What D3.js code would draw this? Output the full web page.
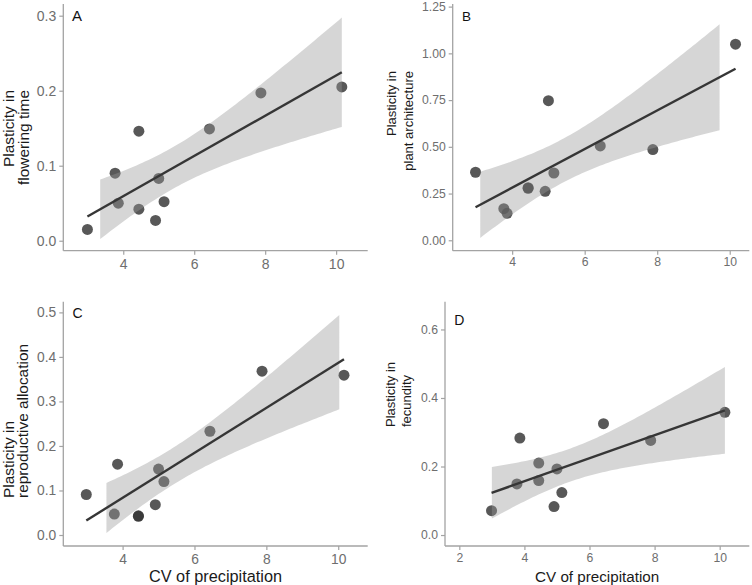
<!DOCTYPE html>
<html>
<head>
<meta charset="utf-8">
<script src="https://cdn.jsdelivr.net/npm/d3@7"></script>
<style>
  html, body { margin: 0; padding: 0; background: #fff; }
  svg { display: block; font-family: "Liberation Sans", Arial, Helvetica, sans-serif; }
</style>
</head>
<body>
<svg id="chart" width="752" height="585"></svg>
<script>
// ---- data ----
const cvPrecipitation = [2.99, 3.77, 3.86, 4.44, 4.44, 4.91, 5.00, 5.15, 6.43, 7.88, 10.16];
const floweringTime      = [0.015, 0.090, 0.050, 0.146, 0.042, 0.027, 0.083, 0.052, 0.149, 0.197, 0.205];
const plantArchitecture  = [0.364, 0.169, 0.144, 0.281, 0.278, 0.262, 0.747, 0.360, 0.505, 0.485, 1.049];
const reproAllocation    = [0.091, 0.047, 0.159, 0.043, 0.042, 0.068, 0.148, 0.120, 0.233, 0.368, 0.359];
const fecundity          = [0.071, 0.149, 0.283, 0.210, 0.159, 0.083, 0.193, 0.124, 0.325, 0.276, 0.358];

const panelLetters = ["A", "B", "C", "D"];
const yTitles = [
  ["Plasticity in", "flowering time"],
  ["Plasticity in", "plant architecture"],
  ["Plasticity in", "reproductive allocation"],
  ["Plasticity in", "fecundity"]
];
const yTicksA = [0, 0.1, 0.2, 0.3];
const yTicksB = [0, 0.25, 0.5, 0.75, 1.0, 1.25];
const yTicksC = [0, 0.1, 0.2, 0.3, 0.4, 0.5];
const yTicksD = [0, 0.2, 0.4, 0.6];
const xTicksABC = [4, 6, 8, 10];
const xTicksD = [2, 4, 6, 8, 10];
const xTitle = "CV of precipitation";
// x-range over which the confidence band is drawn in each panel
const bandFrom = [3.35, 3.12, 3.55, 3.0];
const bandTo   = [10.16, 9.72, 10.03, 10.16];
const tCrit = 2.262; // t(0.975, df = 9)

// ---- layout ----
const panels = [
  { y: floweringTime, yTicks: yTicksA, xTicks: xTicksABC, yFmt: ".1f",
    left: 63.3, top: 4, right: 367.7, bottom: 250.7,
    xDom: [2.31, 10.89], yDom: [-0.0133, 0.3156],
    tickFont: 14, titleFont: 15.4, letterFont: 15, letterPos: [72, 21],
    titleX: [13.5, 28.5], titleAnchor: "end", titleY: 90, xPad: 4.5, showXTitle: false },
  { y: plantArchitecture, yTicks: yTicksB, xTicks: xTicksABC, yFmt: ".2f",
    left: 452.7, top: 4, right: 749.3, bottom: 250.7,
    xDom: [2.36, 10.54], yDom: [-0.0557, 1.264],
    tickFont: 12.2, titleFont: 13, letterFont: 13.5, letterPos: [462, 20.5],
    titleX: [395.5, 412.5], titleAnchor: "end", titleY: 71, xPad: 3, showXTitle: false },
  { y: reproAllocation, yTicks: yTicksC, xTicks: xTicksABC, yFmt: ".1f",
    left: 63.3, top: 301.7, right: 367.7, bottom: 546,
    xDom: [2.35, 10.82], yDom: [-0.0247, 0.524],
    tickFont: 13.8, titleFont: 15.4, letterFont: 14, letterPos: [72.5, 318],
    titleX: [13.5, 28], titleAnchor: "start", titleY: 498, xPad: 4.5, showXTitle: true,
    xTitleFont: 16.3, xTitleY: 582 },
  { y: fecundity, yTicks: yTicksD, xTicks: xTicksD, yFmt: ".1f",
    left: 445, top: 301.7, right: 749.3, bottom: 546,
    xDom: [1.56, 10.91], yDom: [-0.032, 0.681],
    tickFont: 12.2, titleFont: 13, letterFont: 14, letterPos: [454.3, 325],
    titleX: [394.5, 411], titleAnchor: "start", titleY: 427, xPad: 3, showXTitle: true,
    xTitleFont: 15.2, xTitleY: 582 }
];

const svg = d3.select("#chart");
const axisColor = "#a3a3a3";
const tickText = "#6e6e6e";

function linFit(xs, ys) {
  const n = xs.length;
  const mx = d3.mean(xs), my = d3.mean(ys);
  let sxx = 0, sxy = 0;
  for (let i = 0; i < n; i++) { sxx += (xs[i] - mx) ** 2; sxy += (xs[i] - mx) * (ys[i] - my); }
  const b = sxy / sxx, a = my - b * mx;
  let ssr = 0;
  for (let i = 0; i < n; i++) ssr += (ys[i] - a - b * xs[i]) ** 2;
  const s = Math.sqrt(ssr / (n - 2));
  return { a, b, mx, sxx, s, n,
    pred: x => a + b * x,
    se: x => s * Math.sqrt(1 / n + (x - mx) ** 2 / sxx) };
}

panels.forEach((p, i) => {
  const x = d3.scaleLinear().domain(p.xDom).range([p.left, p.right]);
  const y = d3.scaleLinear().domain(p.yDom).range([p.bottom, p.top]);
  const g = svg.append("g");
  const pts = cvPrecipitation.map((cv, k) => ({ x: cv, y: p.y[k] }));
  const fit = linFit(cvPrecipitation, p.y);

  // points (drawn first, the band goes over them)
  g.append("g").selectAll("circle").data(pts).join("circle")
    .attr("cx", d => x(d.x)).attr("cy", d => y(d.y)).attr("r", 5.5)
    .attr("fill", "#333333").attr("fill-opacity", 0.82);

  // confidence band
  const bandXs = d3.range(0, 81).map(k => bandFrom[i] + (bandTo[i] - bandFrom[i]) * k / 80);
  const area = d3.area()
    .x(d => x(d))
    .y0(d => y(fit.pred(d) - tCrit * fit.se(d)))
    .y1(d => y(fit.pred(d) + tCrit * fit.se(d)));
  g.append("path").datum(bandXs).attr("d", area)
    .attr("fill", "#999999").attr("fill-opacity", 0.4);

  // regression line
  const [xmin, xmax] = d3.extent(cvPrecipitation);
  const line = d3.line().x(d => x(d)).y(d => y(fit.pred(d)));
  g.append("path").datum([xmin, xmax]).attr("d", line)
    .attr("fill", "none").attr("stroke", "#363636").attr("stroke-width", 2.4);

  // axes
  const yAxis = d3.axisLeft(y).tickValues(p.yTicks).tickFormat(d3.format(p.yFmt))
    .tickSize(4).tickPadding(3).tickSizeOuter(0);
  const ya = g.append("g").attr("transform", `translate(${p.left},0)`).call(yAxis);
  const xAxis = d3.axisBottom(x).tickValues(p.xTicks).tickFormat(d3.format("d"))
    .tickSize(4).tickPadding(p.xPad).tickSizeOuter(0);
  const xa = g.append("g").attr("transform", `translate(0,${p.bottom})`).call(xAxis);
  [ya, xa].forEach(a => {
    a.select(".domain").attr("stroke", axisColor).attr("stroke-width", 1.3);
    a.selectAll(".tick line").attr("stroke", axisColor).attr("stroke-width", 1.2);
    a.selectAll(".tick text").attr("fill", tickText).attr("font-size", p.tickFont)
      .attr("font-family", "Liberation Sans, Arial, sans-serif");
  });
  // full-length axis lines
  ya.select(".domain").attr("d", `M0,${p.top}V${p.bottom}`);
  xa.select(".domain").attr("d", `M${p.left},0H${p.right}`);

  // panel letter
  g.append("text").attr("x", p.letterPos[0]).attr("y", p.letterPos[1])
    .attr("font-size", p.letterFont).attr("fill", "#111").text(panelLetters[i]);

  // y title (two lines, rotated)
  yTitles[i].forEach((t, li) => {
    g.append("text")
      .attr("transform", `translate(${p.titleX[li]},${p.titleY}) rotate(-90)`)
      .attr("text-anchor", p.titleAnchor)
      .attr("font-size", p.titleFont).attr("fill", "#1a1a1a").text(t);
  });

  if (p.showXTitle) {
    g.append("text").attr("x", (p.left + p.right) / 2).attr("y", p.xTitleY)
      .attr("text-anchor", "middle").attr("font-size", p.xTitleFont)
      .attr("fill", "#1a1a1a").text(xTitle);
  }
});
</script>
</body>
</html>
